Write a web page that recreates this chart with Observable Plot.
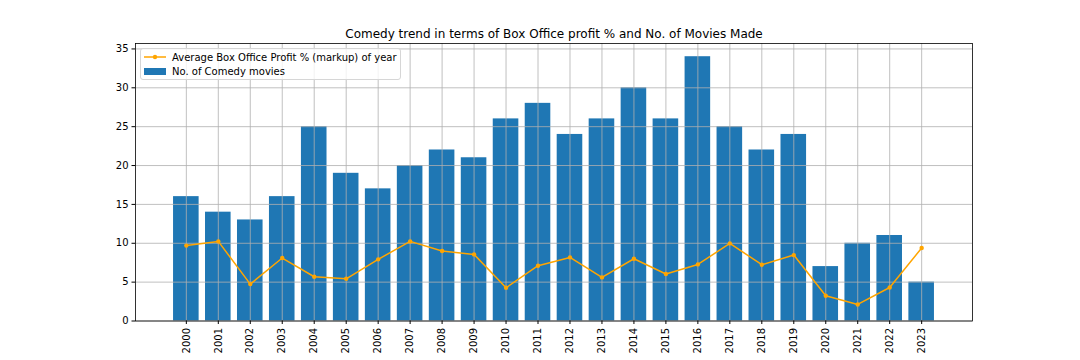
<!DOCTYPE html>
<html>
<head>
<meta charset="utf-8">
<script src="https://cdn.jsdelivr.net/npm/d3@7"></script>
<script src="https://cdn.jsdelivr.net/npm/@observablehq/plot@0.6"></script>
<style>
  html, body { margin: 0; padding: 0; background: #fff; }
  #wrap { position: relative; width: 1080px; height: 360px; font-family: "DejaVu Sans", sans-serif; }
  #legend { position: absolute; left: 140px; top: 48px; width: 261px; height: 32px; box-sizing: border-box;
    border: 1px solid #d6d6d6; border-radius: 3px; background: rgba(255,255,255,0.8); font-size: 10px; color: #000; }
  .row { position: absolute; left: 0; display: flex; align-items: center; height: 14px; }
  .row span { position: absolute; left: 31px; white-space: nowrap; }
</style>
</head>
<body>
<div id="wrap">
  <div id="chart"></div>
  <div id="legend">
    <div class="row" style="top:1px;">
      <svg width="30" height="14" style="position:absolute;left:2px;"><line x1="1" x2="23" y1="7" y2="7" stroke="orange" stroke-width="1.5"/><circle cx="12" cy="7" r="2.2" fill="orange"/></svg>
      <span id="lab1"></span>
    </div>
    <div class="row" style="top:15px;">
      <svg width="30" height="14" style="position:absolute;left:2px;"><rect x="1" y="4" width="22" height="7" fill="#1f77b4"/></svg>
      <span id="lab2"></span>
    </div>
  </div>
</div>
<script>
const years = [2000,2001,2002,2003,2004,2005,2006,2007,2008,2009,2010,2011,2012,2013,2014,2015,2016,2017,2018,2019,2020,2021,2022,2023];
const movies = [16,14,13,16,25,19,17,20,22,21,26,28,24,26,30,26,34,25,22,24,7,10,11,5];
const profit = [9.7,10.24,4.75,8.1,5.69,5.43,7.93,10.24,9.0,8.57,4.27,7.11,8.18,5.61,8.01,6.04,7.28,9.98,7.24,8.48,3.24,2.13,4.31,9.39];
const yTicks = [0,5,10,15,20,25,30,35];
const title = "Comedy trend in terms of Box Office profit % and No. of Movies Made";
const lineLabel = "Average Box Office Profit % (markup) of year";
const barLabel = "No. of Comedy movies";

document.getElementById("lab1").textContent = lineLabel;
document.getElementById("lab2").textContent = barLabel;

const data = years.map((y, i) => ({year: y, movies: movies[i], profit: profit[i]}));

const chart = Plot.plot({
  width: 1080,
  height: 360,
  marginLeft: 135,
  marginRight: 108,
  marginTop: 43,
  marginBottom: 39.5,
  style: {fontFamily: "DejaVu Sans", fontSize: "10px", color: "#000", background: "#fff"},
  x: {type: "linear", domain: [1998.41, 2024.59]},
  y: {domain: [0, 35.7]},
  marks: [
    Plot.rect(data, {x1: d => d.year - 0.4, x2: d => d.year + 0.4, y1: 0, y2: "movies", fill: "#1f77b4"}),
    Plot.gridX(years, {stroke: "#b0b0b0", strokeOpacity: 1, strokeWidth: 0.8}),
    Plot.gridY(yTicks, {stroke: "#b0b0b0", strokeOpacity: 1, strokeWidth: 0.8}),
    Plot.line(data, {x: "year", y: "profit", stroke: "orange", strokeWidth: 1.5}),
    Plot.dot(data, {x: "year", y: "profit", r: 2.2, fill: "orange"}),
    Plot.frame({stroke: "#000", strokeWidth: 0.8}),
    Plot.axisX({ticks: years, tickFormat: d => String(d), tickRotate: -90, tickSize: 3.5, tickPadding: 3.5, label: null, fontSize: 10}),
    Plot.axisY({ticks: yTicks, tickSize: 3.5, tickPadding: 3.5, label: null, fontSize: 10}),
    Plot.text([title], {frameAnchor: "top", dy: -14, text: d => d, fontSize: 12, fill: "#000"})
  ]
});
document.getElementById("chart").appendChild(chart);
</script>
</body>
</html>
